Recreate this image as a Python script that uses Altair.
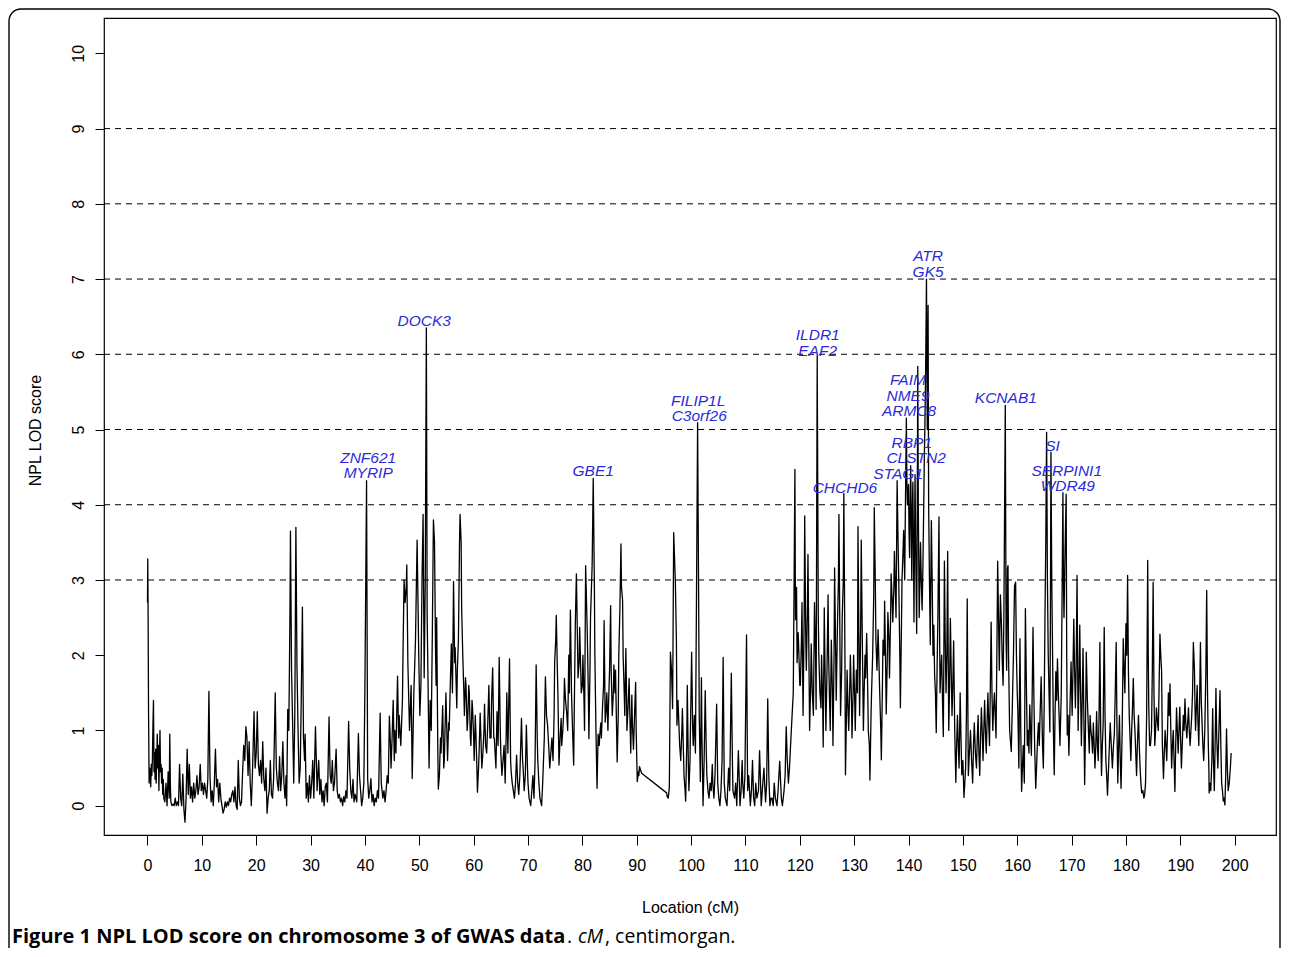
import altair as alt
import pandas as pd

# ---------------- data: (location cM, NPL LOD score) ----------------
seg_000 = [(0.0, 2.7), (0.05, 3.28), (0.1, 2.75), (0.2, 1.2), (0.3, 0.3), (0.4, 0.5), (0.5, 0.45), (0.6, 0.25),
           (0.7, 0.55), (0.8, 0.4), (0.9, 0.6), (1.0, 1.05), (1.1, 1.4), (1.2, 0.45), (1.3, 0.7), (1.4, 0.35),
           (1.5, 0.75), (1.6, 0.3), (1.7, 0.6), (1.8, 0.95), (1.9, 0.5), (2.0, 0.8), (2.1, 0.2), (2.2, 0.65),
           (2.3, 1.0), (2.4, 0.45), (2.5, 0.55), (2.6, 0.3), (2.7, 0.5), (2.8, 0.15), (2.9, 0.35), (3.0, 0.1),
           (3.2, 0.05), (3.4, 0.3), (3.6, 0.0), (3.8, 0.45), (4.0, 0.1), (4.1, 0.95), (4.2, 0.3), (4.3, 0.05),
           (4.5, 0.0), (4.7, 0.02), (4.9, 0.0), (5.1, 0.1), (5.3, 0.0), (5.5, 0.05), (5.7, 0.0), (5.9, 0.55),
           (6.1, 0.1), (6.3, 0.0), (6.5, 0.42), (6.7, -0.05), (6.9, -0.22), (7.1, 0.1), (7.3, 0.75), (7.5, 0.15),
           (7.7, 0.55), (7.9, 0.1), (8.1, 0.25), (8.3, 0.05), (8.5, 0.3), (8.7, 0.1), (8.9, 0.2), (9.1, 0.4),
           (9.3, 0.15), (9.5, 0.25), (9.7, 0.55), (9.9, 0.2)]
seg_010 = [(10.1, 0.3), (10.3, 0.15), (10.5, 0.3), (10.7, 0.2), (10.9, 0.1), (11.1, 0.35), (11.3, 1.52), (11.5, 0.4),
           (11.7, 0.05), (11.9, 0.2), (12.1, 0.0), (12.3, 0.3), (12.5, 0.75), (12.7, 0.25), (12.9, 0.35), (13.1, 0.05),
           (13.3, 0.3), (13.5, 0.1), (13.7, 0.0), (13.9, -0.1), (14.1, -0.05), (14.3, 0.05), (14.5, -0.02), (14.7, 0.05),
           (14.9, 0.0), (15.1, 0.1), (15.3, 0.05), (15.5, 0.15), (15.7, 0.2), (15.9, 0.05), (16.1, 0.25), (16.3, 0.0),
           (16.5, -0.05), (16.7, 0.6), (16.9, 0.1), (17.1, 0.0), (17.3, 0.05), (17.5, 0.45), (17.7, 0.8), (17.9, 0.6),
           (18.1, 1.05), (18.3, 0.9), (18.5, 0.4), (18.7, 0.85), (18.9, 0.3), (19.1, 0.0), (19.3, 0.4), (19.6, 1.25),
           (19.8, 0.5), (20.0, 0.7)]
seg_020 = [(20.2, 1.25), (20.4, 0.55), (20.6, 0.4), (20.8, 0.6), (21.0, 0.3), (21.2, 0.85), (21.4, 0.35), (21.6, 0.2),
           (21.8, 0.5), (22.0, -0.1), (22.2, 0.1), (22.4, 0.2), (22.6, 0.6), (22.8, 0.15), (23.0, 0.1), (23.2, 0.35),
           (23.5, 1.5), (23.7, 0.5), (23.9, 0.3), (24.1, 0.2), (24.3, 0.65), (24.5, 0.2), (24.7, 0.4), (24.9, 0.85),
           (25.1, 0.3), (25.3, 0.1), (25.5, 0.4), (25.6, 0.0), (25.8, 1.28), (26.0, 1.0), (26.2, 2.5), (26.3, 3.65),
           (26.5, 1.8), (26.7, 1.1), (26.9, 0.3), (27.1, 1.2), (27.3, 3.7), (27.5, 1.85), (27.7, 1.0), (27.9, 0.3),
           (28.1, 0.5), (28.3, 1.5), (28.5, 2.64), (28.7, 0.9), (28.9, 0.6), (29.0, 0.95), (29.2, 0.1), (29.4, 0.3),
           (29.6, 0.05), (29.8, 0.4)]
seg_030 = [(30.0, 0.1), (30.2, 0.3), (30.4, 0.6), (30.6, 0.1), (30.9, 1.05), (31.1, 0.5), (31.2, 0.2), (31.5, 0.6),
           (31.7, 0.15), (31.9, 0.35), (32.1, 0.05), (32.3, 0.2), (32.5, 0.0), (32.7, 0.25), (32.9, 0.3), (33.1, 0.05),
           (33.4, 1.18), (33.6, 0.4), (33.8, 0.3), (34.0, 0.6), (34.2, 0.2), (34.4, 0.3), (34.7, 0.75), (34.9, 0.2),
           (35.1, 0.1), (35.3, 0.15), (35.5, 0.05), (35.7, 0.1), (35.9, 0.0), (36.1, 0.12), (36.3, 0.05), (36.5, 0.2),
           (36.7, 0.1), (37.0, 1.12), (37.2, 0.5), (37.4, 0.2), (37.6, 0.1), (37.8, 0.35), (38.0, 0.05), (38.2, 0.15),
           (38.5, 0.05), (38.8, 0.96), (39.0, 0.4), (39.2, 0.2), (39.4, 0.0), (39.6, 0.1), (39.8, 0.3), (40.0, 1.6),
           (40.3, 4.32), (40.5, 0.36)]
seg_040 = [(40.7, 0.1), (40.9, 0.2), (41.1, 0.36), (41.3, 0.05), (41.5, 0.15), (41.7, 0.0), (41.9, 0.1), (42.1, 0.05),
           (42.3, 0.2), (42.5, 0.1), (42.8, 1.23), (43.0, 0.3), (43.3, 0.1), (43.5, 0.2), (43.7, 0.05), (43.9, 0.2),
           (44.1, 0.4), (44.3, 0.3), (44.5, 1.19), (44.7, 0.8), (44.8, 0.5), (45.0, 0.9), (45.2, 1.4), (45.4, 0.6),
           (45.5, 1.0), (45.7, 0.7), (46.0, 1.72), (46.2, 0.9), (46.3, 1.2), (46.6, 0.8), (46.9, 1.4), (47.0, 2.0),
           (47.2, 3.0), (47.4, 2.7), (47.6, 2.9), (47.7, 3.2), (47.9, 1.9), (48.2, 1.0), (48.5, 1.6), (48.7, 0.36),
           (49.0, 1.5), (49.3, 2.2), (49.6, 3.53), (49.9, 2.0), (50.1, 1.2), (50.3, 1.6), (50.5, 3.0), (50.7, 3.87),
           (50.9, 1.7)]
seg_050 = [(51.1, 3.0), (51.3, 6.35), (51.45, 2.5), (51.6, 1.7), (51.8, 0.5), (52.0, 1.4), (52.2, 1.0), (52.4, 2.3),
           (52.6, 3.8), (52.8, 3.5), (53.0, 2.0), (53.1, 1.6), (53.2, 2.5), (53.4, 0.8), (53.5, 0.22), (53.7, 0.4),
           (53.9, 0.9), (54.0, 0.7), (54.2, 1.1), (54.3, 1.33), (54.5, 0.5), (54.6, 0.6), (54.8, 1.2), (54.9, 1.5),
           (55.1, 0.9), (55.2, 0.6), (55.4, 1.1), (55.5, 1.0), (55.7, 1.6), (55.9, 2.15), (56.1, 1.5), (56.2, 2.2),
           (56.3, 2.98), (56.5, 1.9), (56.6, 2.1), (56.9, 1.3), (57.0, 1.8), (57.2, 2.2), (57.4, 3.5), (57.5, 3.87),
           (57.7, 3.5), (57.8, 2.6), (58.0, 2.0), (58.2, 1.5), (58.3, 1.2), (58.5, 1.7), (58.6, 1.6), (58.8, 1.0),
           (58.9, 1.1), (59.1, 1.6), (59.2, 1.5), (59.4, 0.9), (59.5, 0.8), (59.7, 1.4), (59.8, 1.3), (60.0, 0.9)]
seg_060 = [(60.1, 0.6), (60.3, 1.2), (60.4, 1.0), (60.6, 0.5), (60.7, 0.18), (60.9, 0.5), (61.0, 0.7), (61.2, 1.23),
           (61.3, 1.0), (61.5, 0.5), (61.7, 0.7), (61.9, 1.0), (62.0, 1.35), (62.2, 0.8), (62.4, 0.7), (62.6, 1.1),
           (62.8, 1.6), (63.0, 0.9), (63.2, 0.9), (63.3, 1.4), (63.5, 1.83), (63.7, 0.9), (63.8, 0.9), (64.1, 0.5),
           (64.3, 1.25), (64.5, 0.8), (64.7, 1.97), (64.9, 1.0), (65.0, 0.7), (65.2, 0.4), (65.4, 0.6), (65.6, 0.8),
           (65.8, 0.3), (66.0, 1.0), (66.1, 1.5), (66.3, 0.7), (66.6, 1.95), (66.8, 0.6), (66.9, 0.45), (67.1, 0.3),
           (67.3, 0.2), (67.5, 0.1), (67.7, 0.3), (67.9, 0.67), (68.1, 0.3), (68.3, 0.15), (68.5, 0.4), (68.8, 1.16),
           (69.0, 0.6), (69.1, 0.5), (69.3, 0.2), (69.5, 0.4), (69.7, 1.07), (69.9, 0.5)]
seg_070 = [(70.0, 0.3), (70.2, 0.1), (70.5, 0.0), (70.7, 0.2), (70.9, 0.4), (71.1, 0.1), (71.3, 0.6), (71.5, 1.87),
           (71.7, 0.9), (71.8, 0.6), (72.0, 0.3), (72.2, 0.1), (72.5, 0.0), (72.7, 0.3), (72.8, 0.5), (73.0, 0.9),
           (73.2, 1.71), (73.4, 1.2), (73.6, 1.07), (73.8, 0.8), (74.0, 0.5), (74.2, 0.7), (74.4, 0.9), (74.6, 0.6),
           (74.8, 1.2), (74.9, 1.91), (75.1, 2.2), (75.2, 2.53), (75.4, 1.8), (75.5, 1.5), (75.7, 0.54), (75.9, 0.9),
           (76.1, 1.16), (76.2, 0.8), (76.4, 1.0), (76.6, 1.3), (76.7, 1.69), (76.9, 1.4), (77.1, 1.25), (77.3, 1.0),
           (77.5, 2.0), (77.6, 1.5), (77.8, 2.6), (78.0, 1.5), (78.2, 1.0), (78.4, 0.54), (78.5, 1.2), (78.7, 2.4),
           (78.9, 3.08), (79.1, 2.2), (79.2, 1.7), (79.4, 1.9), (79.5, 2.37), (79.7, 1.8), (79.8, 1.5), (80.0, 1.6)]
seg_080 = [(80.1, 2.0), (80.3, 1.4), (80.4, 1.0), (80.6, 3.19), (80.8, 2.6), (80.9, 2.3), (81.1, 1.5), (81.2, 0.89),
           (81.4, 1.8), (81.5, 2.5), (81.8, 3.2), (82.0, 4.35), (82.2, 3.0), (82.3, 2.0), (82.5, 1.0), (82.7, 0.23),
           (82.9, 0.95), (83.1, 0.8), (83.2, 0.94), (83.4, 1.1), (83.5, 0.9), (83.7, 1.3), (83.9, 1.6), (84.0, 2.46),
           (84.2, 1.11), (84.4, 1.3), (84.5, 1.5), (84.7, 1.0), (84.8, 1.3), (85.0, 1.8), (85.2, 2.66), (85.3, 1.8),
           (85.5, 1.2), (85.7, 1.5), (85.8, 1.87), (86.0, 1.5), (86.1, 1.8), (86.3, 1.0), (86.4, 0.58), (86.6, 1.2),
           (86.7, 2.0), (86.9, 2.6), (87.1, 3.48), (87.2, 2.9), (87.4, 2.73), (87.5, 2.0), (87.7, 1.5), (87.8, 1.2),
           (88.0, 2.09), (88.1, 1.6), (88.2, 1.0), (88.4, 1.3), (88.6, 1.69), (88.8, 1.0), (88.9, 0.7), (89.1, 1.47),
           (89.2, 1.1), (89.4, 0.75), (89.6, 1.2), (89.8, 1.64), (89.9, 1.0)]
seg_090 = [(90.1, 0.32), (90.3, 0.45), (90.4, 0.4), (90.5, 0.52), (90.9, 0.43), (95.5, 0.17), (95.6, 0.12), (95.8, 0.1),
           (96.0, 0.25), (96.2, 2.04), (96.4, 1.8), (96.6, 1.29), (96.8, 3.63), (96.95, 3.3), (97.1, 3.0), (97.3, 2.2),
           (97.4, 1.07), (97.6, 1.4), (97.7, 1.2), (97.9, 0.8), (98.1, 0.6), (98.3, 1.0), (98.4, 1.29), (98.6, 0.7),
           (98.7, 0.4), (98.9, 0.2), (99.0, 0.06), (99.2, 0.8), (99.3, 1.6), (99.5, 0.5), (99.6, 0.2), (99.8, 0.6),
           (100.1, 2.04), (100.3, 1.0), (100.4, 0.8), (100.6, 1.2), (100.8, 0.7)]
seg_100 = [(101.0, 2.84), (101.2, 5.09), (101.4, 2.6), (101.5, 1.2), (101.7, 0.32), (101.9, 1.7), (102.0, 0.9),
           (102.2, 0.0), (102.4, 0.6), (102.6, 1.53), (102.8, 0.7), (102.9, 0.4), (103.1, 0.2), (103.3, 0.1),
           (103.5, 0.3), (103.7, 0.2), (103.9, 0.55), (104.0, 0.3), (104.2, 0.1), (104.4, 0.4), (104.7, 1.35),
           (104.9, 0.3), (105.1, 0.1), (105.3, 0.0), (105.5, 0.2), (105.7, 0.6), (105.9, 1.97), (106.1, 0.3),
           (106.3, 0.1), (106.6, 0.0), (106.9, 0.5), (107.1, 0.2), (107.4, 1.76), (107.6, 0.6), (107.7, 0.2),
           (108.0, 0.1), (108.2, 0.3), (108.4, 0.0), (108.7, 0.73), (109.0, 0.0), (109.2, 0.2), (109.4, 0.6),
           (109.5, 0.3), (109.7, 0.1), (109.9, 0.4)]
seg_110 = [(110.2, 2.27), (110.4, 0.2), (110.6, 0.4), (110.9, 0.0), (111.1, 0.2), (111.3, 0.6), (111.5, 0.1),
           (111.7, 0.0), (111.9, 0.3), (112.1, 0.1), (112.4, 0.2), (112.6, 0.73), (112.9, 0.0), (113.1, 0.2),
           (113.4, 0.5), (113.6, 0.2), (113.7, 0.05), (113.9, 0.3), (114.1, 1.42), (114.3, 0.4), (114.5, 0.0),
           (114.7, 0.1), (114.9, 0.1), (115.1, 0.0), (115.3, 0.3), (115.5, 0.1), (115.8, 0.0), (116.0, 0.2),
           (116.3, 0.59), (116.6, 0.1), (116.8, 0.0), (117.1, 0.2), (117.3, 0.4), (117.5, 1.05), (117.7, 0.6),
           (117.9, 0.3), (118.1, 0.5), (118.3, 0.8), (118.6, 1.23), (118.8, 1.5), (119.1, 4.47), (119.2, 2.47),
           (119.4, 2.9), (119.5, 1.9), (119.7, 2.3), (119.8, 2.1), (120.0, 1.6)]
seg_120 = [(120.1, 1.6), (120.3, 2.2), (120.4, 2.7), (120.6, 1.2), (120.8, 2.5), (120.9, 3.85), (121.1, 2.2),
           (121.2, 1.8), (121.4, 2.6), (121.5, 3.34), (121.7, 1.8), (121.8, 1.0), (122.0, 1.6), (122.1, 2.15),
           (122.3, 1.5), (122.5, 1.2), (122.7, 2.7), (122.9, 2.0), (123.0, 1.28), (123.2, 5.98), (123.4, 2.5),
           (123.5, 2.0), (123.7, 1.5), (123.9, 1.3), (124.0, 2.0), (124.2, 1.4), (124.3, 0.78), (124.5, 2.63),
           (124.7, 1.5), (124.8, 1.0), (125.0, 1.8), (125.2, 2.8), (125.3, 2.0), (125.5, 1.3), (125.6, 1.0),
           (125.8, 2.2), (126.0, 1.5), (126.1, 0.8), (126.3, 2.0), (126.4, 3.16), (126.6, 2.0), (126.7, 1.4),
           (126.9, 2.3), (127.1, 3.0), (127.2, 3.87), (127.4, 2.0), (127.5, 1.2), (127.7, 1.8), (127.8, 2.5),
           (128.0, 3.0), (128.1, 4.15), (128.3, 2.0), (128.4, 0.41), (128.6, 1.3), (128.7, 1.8), (128.9, 1.2),
           (129.0, 1.0), (129.2, 1.6), (129.3, 2.0), (129.5, 1.4), (129.6, 0.9), (129.8, 1.5), (129.9, 2.0)]
seg_130 = [(130.1, 1.4), (130.2, 1.0), (130.4, 1.8), (130.6, 1.5), (130.7, 3.71), (130.9, 2.0), (131.0, 1.2),
           (131.2, 2.4), (131.3, 3.53), (131.5, 2.2), (131.7, 1.0), (131.8, 1.4), (132.0, 2.0), (132.1, 1.7),
           (132.3, 2.29), (132.5, 1.5), (132.6, 1.0), (132.8, 0.8), (132.9, 0.34), (133.1, 1.2), (133.2, 1.5),
           (133.4, 2.0), (133.6, 2.8), (133.7, 3.96), (133.9, 2.9), (134.0, 2.2), (134.2, 1.8), (134.4, 2.34),
           (134.6, 1.8), (134.7, 1.5), (134.9, 1.0), (135.0, 0.61), (135.2, 1.6), (135.3, 2.2), (135.5, 2.0),
           (135.6, 2.72), (135.8, 1.8), (135.9, 1.22), (136.1, 2.0), (136.2, 2.57), (136.4, 2.2), (136.5, 1.7),
           (136.7, 2.5), (136.8, 3.08), (137.0, 2.7), (137.1, 2.44), (137.3, 2.9), (137.4, 3.38), (137.6, 2.8),
           (137.7, 2.5), (137.9, 4.32), (138.1, 3.4), (138.2, 3.0), (138.4, 2.0), (138.5, 1.3), (138.7, 2.4),
           (138.8, 3.0), (139.0, 3.4), (139.1, 3.66), (139.3, 3.0), (139.4, 3.8), (139.6, 5.15), (139.7, 4.3),
           (139.8, 4.0), (140.0, 4.27)]
seg_140 = [(140.1, 3.6), (140.2, 3.3), (140.3, 4.0), (140.4, 4.52), (140.5, 3.8), (140.6, 3.0), (140.7, 3.9),
           (140.8, 4.3), (140.9, 3.5), (141.0, 2.44), (141.1, 3.5), (141.2, 4.4), (141.35, 3.2), (141.5, 2.29),
           (141.6, 3.8), (141.7, 5.84), (141.8, 4.0), (141.96, 2.5), (142.1, 3.0), (142.2, 3.5), (142.35, 3.0),
           (142.5, 2.6), (142.65, 3.2), (142.8, 4.0), (142.9, 4.6), (143.0, 5.0), (143.15, 5.8), (143.3, 7.0),
           (143.45, 5.0), (143.6, 6.65), (143.7, 4.0), (143.85, 3.0), (144.0, 2.14), (144.1, 3.0), (144.2, 3.79),
           (144.35, 3.0), (144.5, 2.0), (144.65, 2.4), (144.8, 1.73), (144.95, 1.5), (145.1, 0.97), (145.25, 1.8),
           (145.4, 2.5), (145.6, 3.84), (145.7, 2.5), (145.8, 1.5), (145.95, 1.8), (146.1, 2.0), (146.25, 1.4),
           (146.4, 0.92), (146.5, 2.0), (146.6, 3.25), (146.75, 2.2), (146.9, 1.5), (147.05, 2.0), (147.2, 3.38),
           (147.3, 2.0), (147.4, 1.0), (147.55, 1.6), (147.7, 2.49), (147.85, 1.8), (148.0, 1.2), (148.15, 1.6),
           (148.3, 2.19), (148.5, 1.0), (148.7, 0.31), (148.85, 0.8), (149.0, 1.2), (149.15, 0.8), (149.3, 0.5),
           (149.4, 1.0), (149.5, 1.5), (149.65, 0.9), (149.8, 0.41)]
seg_150 = [(150.0, 0.6), (150.2, 0.11), (150.35, 0.3), (150.5, 0.5), (150.65, 1.2), (150.8, 2.75), (150.9, 1.5),
           (151.0, 0.4), (151.2, 0.7), (151.4, 1.0), (151.6, 0.6), (151.8, 0.3), (151.95, 0.8), (152.1, 1.1),
           (152.3, 0.7), (152.5, 0.5), (152.65, 0.9), (152.8, 1.2), (152.95, 0.7), (153.1, 0.4), (153.25, 0.9),
           (153.4, 1.3), (153.55, 1.0), (153.7, 0.6), (153.85, 1.0), (154.0, 1.4), (154.15, 1.0), (154.3, 0.7),
           (154.45, 1.1), (154.6, 1.5), (154.75, 1.1), (154.9, 0.8), (155.05, 1.6), (155.2, 2.44), (155.35, 1.5),
           (155.5, 1.0), (155.65, 1.3), (155.8, 1.5), (155.95, 1.2), (156.1, 0.9), (156.25, 2.0), (156.4, 3.25),
           (156.55, 2.5), (156.7, 1.8), (156.9, 2.8), (157.1, 2.4), (157.25, 1.9), (157.4, 1.6), (157.55, 2.6),
           (157.8, 5.32), (157.95, 2.2), (158.05, 1.8), (158.2, 3.15), (158.3, 3.19), (158.4, 2.0), (158.6, 1.0),
           (158.9, 0.72), (159.1, 1.34), (159.3, 2.0), (159.5, 2.92), (159.7, 2.97), (159.85, 2.0), (160.0, 1.5)]
seg_160 = [(160.1, 1.3), (160.3, 0.5), (160.5, 2.22), (160.65, 1.0), (160.8, 0.19), (161.0, 0.6), (161.1, 0.8),
           (161.3, 0.3), (161.5, 2.62), (161.7, 1.5), (161.85, 0.8), (162.0, 1.0), (162.15, 0.7), (162.3, 1.34),
           (162.45, 1.0), (162.6, 0.67), (162.75, 1.5), (162.9, 2.37), (163.05, 1.5), (163.2, 0.8), (163.4, 0.23),
           (163.6, 0.6), (163.75, 0.9), (163.9, 1.1), (164.05, 0.8), (164.2, 1.2), (164.4, 1.71), (164.55, 1.2),
           (164.65, 0.8), (164.8, 0.5), (164.95, 1.3), (165.1, 2.5), (165.25, 3.5), (165.4, 4.96), (165.55, 3.0),
           (165.7, 2.0), (165.85, 1.5), (166.0, 0.98), (166.1, 2.5), (166.2, 4.7), (166.35, 3.0), (166.5, 2.0),
           (166.65, 1.0), (166.8, 0.41), (166.95, 1.2), (167.1, 1.78), (167.25, 1.4), (167.4, 1.95), (167.55, 1.5),
           (167.7, 1.2), (167.85, 0.8), (168.0, 1.2), (168.1, 1.5), (168.25, 2.8), (168.4, 4.16), (168.5, 3.0),
           (168.6, 2.5), (168.75, 3.2), (168.9, 3.8), (169.0, 4.14), (169.1, 2.0), (169.2, 0.94), (169.35, 1.2),
           (169.5, 0.67), (169.7, 1.3), (169.9, 1.91)]
seg_170 = [(170.1, 1.2), (170.25, 1.8), (170.4, 2.48), (170.55, 1.8), (170.7, 1.3), (170.85, 1.9), (171.0, 3.06),
           (171.2, 1.0), (171.35, 1.6), (171.5, 2.4), (171.65, 1.5), (171.8, 0.8), (171.95, 1.4), (172.1, 2.09),
           (172.25, 1.2), (172.4, 0.28), (172.55, 1.0), (172.7, 2.04), (172.9, 1.4), (173.1, 1.0), (173.25, 0.7),
           (173.4, 1.2), (173.55, 1.0), (173.7, 0.9), (173.85, 0.7), (174.0, 1.1), (174.15, 0.8), (174.3, 0.5),
           (174.45, 0.8), (174.6, 1.25), (174.75, 0.8), (174.9, 0.6), (175.05, 1.2), (175.2, 2.17), (175.35, 1.0),
           (175.5, 0.4), (175.65, 0.8), (175.8, 1.07), (176.0, 2.37), (176.15, 1.2), (176.3, 0.6), (176.45, 0.4),
           (176.6, 0.14), (176.8, 0.5), (176.95, 0.8), (177.1, 1.1), (177.3, 0.8), (177.5, 0.5), (177.7, 0.8),
           (177.85, 0.94), (178.0, 1.4), (178.2, 2.17), (178.35, 1.0), (178.5, 0.3), (178.65, 0.8), (178.8, 1.2),
           (178.95, 0.6), (179.1, 0.23), (179.3, 1.0), (179.5, 2.22), (179.65, 1.8), (179.8, 1.5)]
seg_180 = [(180.0, 2.42), (180.15, 2.0), (180.3, 3.06), (180.45, 1.8), (180.6, 1.2), (180.75, 0.9), (180.9, 0.6),
           (181.05, 1.0), (181.2, 1.3), (181.35, 1.69), (181.5, 1.2), (181.65, 1.0), (181.8, 0.7), (181.95, 0.4),
           (182.1, 0.8), (182.3, 1.2), (182.45, 0.8), (182.6, 0.5), (182.75, 0.3), (182.9, 0.17), (183.1, 0.2),
           (183.3, 0.1), (183.45, 0.15), (183.6, 0.3), (183.8, 1.2), (184.0, 3.26), (184.1, 2.0), (184.2, 1.3),
           (184.35, 0.8), (184.5, 0.8), (184.7, 1.0), (184.85, 1.8), (185.0, 2.97), (185.15, 1.5), (185.3, 0.8),
           (185.45, 1.0), (185.6, 1.3), (185.8, 1.1), (185.95, 1.0), (186.1, 1.6), (186.25, 2.28), (186.4, 2.0),
           (186.55, 1.8), (186.7, 0.8), (186.9, 0.36), (187.05, 0.7), (187.2, 1.0), (187.35, 0.8), (187.5, 0.6),
           (187.65, 1.0), (187.8, 1.5), (187.95, 1.2), (188.1, 1.62), (188.25, 1.0), (188.4, 0.5), (188.55, 0.8),
           (188.7, 1.0), (188.85, 0.6), (189.0, 0.19), (189.15, 0.8), (189.3, 1.3), (189.45, 1.0), (189.6, 0.7),
           (189.75, 1.0), (189.9, 1.31)]
seg_190 = [(190.05, 0.9), (190.2, 0.5), (190.35, 0.8), (190.55, 1.2), (190.7, 1.0), (190.85, 1.42), (191.0, 1.1),
           (191.2, 0.9), (191.35, 1.1), (191.5, 1.3), (191.65, 1.0), (191.8, 0.8), (191.95, 1.0), (192.1, 1.2),
           (192.25, 1.5), (192.4, 2.17), (192.6, 1.8), (192.7, 1.3), (192.8, 1.0), (192.95, 1.3), (193.1, 1.6),
           (193.25, 1.1), (193.4, 0.8), (193.55, 1.4), (193.7, 2.17), (193.85, 1.4), (194.05, 1.0), (194.15, 0.8),
           (194.3, 0.6), (194.5, 1.0), (194.7, 1.8), (194.85, 2.86), (195.0, 1.5), (195.15, 0.8), (195.25, 0.5),
           (195.3, 0.17), (195.45, 0.3), (195.6, 0.2), (195.8, 0.6), (195.95, 1.29), (196.1, 0.6), (196.25, 0.2),
           (196.4, 0.8), (196.55, 1.56), (196.7, 0.9), (196.9, 0.5), (197.1, 1.0), (197.3, 1.53), (197.45, 0.8),
           (197.6, 0.3), (197.75, 0.2), (197.9, 0.06), (198.05, 0.1), (198.2, 0.01), (198.35, 0.4), (198.5, 1.02),
           (198.65, 0.5), (198.8, 0.2), (199.0, 0.3), (199.2, 0.5), (199.35, 0.7)]

segments = [seg_000, seg_010, seg_020, seg_030, seg_040, seg_050, seg_060, seg_070, seg_080, seg_090,
            seg_100, seg_110, seg_120, seg_130, seg_140, seg_150, seg_160, seg_170, seg_180, seg_190]

# gene labels (anchor in data units)
genes = ["ZNF621", "MYRIP", "DOCK3", "GBE1", "FILIP1L", "C3orf26", "ILDR1", "EAF2", "CHCHD6",
         "ATR", "GK5", "FAIM", "NME9", "ARMC8", "RBP1", "CLSTN2", "STAG1", "KCNAB1", "SI",
         "SERPINI1", "WDR49"]
gene_loc = [40.6, 40.6, 50.9, 82.0, 101.3, 101.5, 123.3, 123.3, 128.3,
            143.6, 143.6, 139.9, 139.9, 140.1, 140.6, 141.4, 138.1, 157.9, 166.5,
            169.1, 169.3]
gene_lod = [4.62, 4.42, 6.44, 4.45, 5.38, 5.18, 6.26, 6.05, 4.22,
            7.30, 7.10, 5.66, 5.45, 5.25, 4.82, 4.62, 4.41, 5.42, 4.78,
            4.45, 4.25]

threshold_levels = [3, 4, 5, 6, 7, 8, 9]
x_ticks = list(range(0, 201, 10))
y_ticks = list(range(0, 11))

caption_bold = "Figure 1 NPL LOD score on chromosome 3 of GWAS data"
caption_dot = "."
caption_italic = "cM"
caption_rest = ", centimorgan."

# ---------------- frames ----------------
df = pd.DataFrame([{"loc": x, "lod": y} for seg in segments for (x, y) in seg])
genes_df = pd.DataFrame({"gene": genes, "loc": gene_loc, "lod": gene_lod})
thr_df = pd.DataFrame({"lev": threshold_levels})
one = pd.DataFrame({"k": [0]})

W, H = 1172, 817
x_scale = alt.Scale(domain=[-8.0, 207.6], nice=False, zero=False)
y_scale = alt.Scale(domain=[-0.39, 10.47], nice=False, zero=False)
FONT = "Liberation Sans"

border = alt.Chart(one).mark_rect(
    fill="white", fillOpacity=0, stroke="black", strokeWidth=1.4, cornerRadius=12
).encode(x=alt.value(-95), x2=alt.value(1176), y=alt.value(-9), y2=alt.value(960))

rules = alt.Chart(thr_df).mark_rule(color="black", strokeWidth=1, strokeDash=[6, 5]).encode(
    y=alt.Y("lev:Q", scale=y_scale)
)

line = alt.Chart(df).mark_line(color="black", strokeWidth=1.3, strokeJoin="round").encode(
    x=alt.X("loc:Q", scale=x_scale, axis=alt.Axis(
        values=x_ticks, format="d", title="Location (cM)", grid=False, domain=False,
        tickSize=10, tickColor="black", labelPadding=12, labelFont=FONT, labelFontSize=16,
        labelColor="black", titleFont=FONT, titleFontSize=16, titleFontWeight="normal",
        titleColor="black", titleY=72, titleBaseline="middle")),
    y=alt.Y("lod:Q", scale=y_scale, axis=alt.Axis(
        values=y_ticks, format="d", title="NPL LOD score", grid=False, domain=False,
        tickSize=9, tickColor="black", labelPadding=9, labelFont=FONT, labelFontSize=16,
        labelColor="black", labelAngle=270, labelAlign="center", labelBaseline="bottom",
        titleFont=FONT, titleFontSize=16, titleFontWeight="normal", titleColor="black",
        titleX=-69, titleY=412, titleAngle=270, titleAlign="center", titleBaseline="middle")),
    order=alt.Order("loc:Q"),
)

labels = alt.Chart(genes_df).mark_text(
    font=FONT, fontSize=15.5, fontStyle="italic", color="#2b2bd9", align="center", baseline="middle"
).encode(
    x=alt.X("loc:Q", scale=x_scale),
    y=alt.Y("lod:Q", scale=y_scale),
    text="gene:N",
)

CAP_Y = 919
CAP_FONT = "Open Sans"
CAP_SIZE = 19.5
cap1 = alt.Chart(one).mark_text(
    text=caption_bold, font=CAP_FONT, fontSize=20, fontWeight="bold", align="left",
    baseline="middle", color="black"
).encode(x=alt.value(-92), y=alt.value(CAP_Y))
cap2 = alt.Chart(one).mark_text(
    text=caption_dot, font=CAP_FONT, fontSize=CAP_SIZE, align="left", baseline="middle", color="black"
).encode(x=alt.value(463), y=alt.value(CAP_Y))
cap3 = alt.Chart(one).mark_text(
    text=caption_italic, font=CAP_FONT, fontSize=CAP_SIZE, fontStyle="italic", align="left",
    baseline="middle", color="black"
).encode(x=alt.value(474), y=alt.value(CAP_Y))
cap4 = alt.Chart(one).mark_text(
    text=caption_rest, font=CAP_FONT, fontSize=CAP_SIZE, align="left", baseline="middle", color="black"
).encode(x=alt.value(501), y=alt.value(CAP_Y))

chart = alt.layer(border, rules, line, labels, cap1, cap2, cap3, cap4).properties(
    width=W, height=H,
    autosize=alt.AutoSizeParams(type="none"),
    padding={"left": 96, "top": 10, "right": 6, "bottom": 113},
    background="white",
).configure_view(stroke="black", strokeWidth=1.2)

chart.save("out.html", embed_options={"renderer": "svg", "actions": False})
